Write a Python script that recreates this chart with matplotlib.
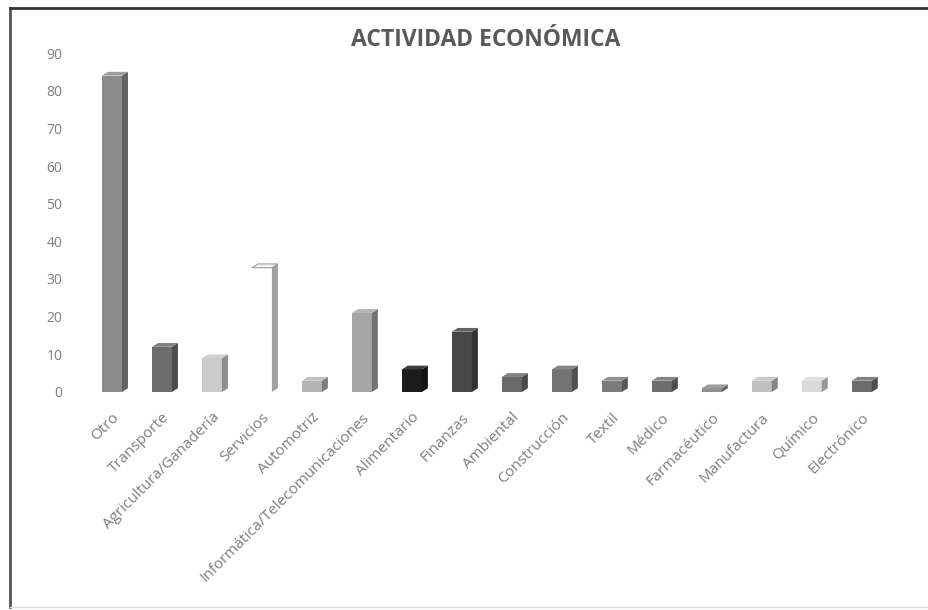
import matplotlib.pyplot as plt
from matplotlib.patches import Polygon
from matplotlib.colors import to_rgb

categorias = ['Otro', 'Transporte', 'Agricultura/Ganadería', 'Servicios', 'Automotriz',
              'Informática/Telecomunicaciones', 'Alimentario', 'Finanzas', 'Ambiental',
              'Construcción', 'Textil', 'Médico', 'Farmacéutico', 'Manufactura',
              'Químico', 'Electrónico']
valores = [84, 12, 9, 33, 3, 21, 6, 16, 4, 6, 3, 3, 1, 3, 3, 3]
colores = ['#8c8c8c', '#6c6c6c', '#cbcbcb', '#ffffff', '#b4b4b4', '#a6a6a6', '#1c1c1c',
           '#484848', '#6a6a6a', '#727272', '#7c7c7c', '#6e6e6e', '#8e8e8e', '#c0c0c0',
           '#d9d9d9', '#6c6c6c']
y_ticks = [0, 10, 20, 30, 40, 50, 60, 70, 80, 90]


def shade(c, f):
    r, g, b = to_rgb(c)
    return (r * f, g * f, b * f)


def lighten(c, f):
    r, g, b = to_rgb(c)
    return (r + (1 - r) * f, g + (1 - g) * f, b + (1 - b) * f)


def main():
    plt.rcParams['font.family'] = ['Open Sans', 'DejaVu Sans']
    fig = plt.figure(figsize=(9.29, 6.10), dpi=100)
    ax = fig.add_axes([0.0807, 0.3574, 0.890, 0.5557])

    w = 0.4
    dx, dy = 0.12, 1.0
    x = list(range(len(categorias)))
    bars = ax.bar(x, valores, width=w, color=colores, edgecolor='none', zorder=2)
    for b, v, c in zip(bars, valores, colores):
        x0 = b.get_x()
        x1 = x0 + w
        if c == '#ffffff':
            side_c = '#a0a0a0'
            top_c = '#f2f2f2'
        else:
            side_c = shade(c, 0.7)
            top_c = lighten(c, 0.15)
        ax.add_patch(Polygon([(x1, 0), (x1 + dx, dy), (x1 + dx, v + dy), (x1, v)],
                             closed=True, facecolor=side_c, edgecolor='none', zorder=2))
        ax.add_patch(Polygon([(x0, v), (x0 + dx, v + dy), (x1 + dx, v + dy), (x1, v)],
                             closed=True, facecolor=top_c,
                             edgecolor='#a0a0a0' if c == '#ffffff' else 'none',
                             linewidth=0.8, zorder=3))

    ax.set_xlim(-0.74, 15.8)
    ax.set_ylim(0, 90)
    ax.set_yticks(y_ticks)
    ax.set_xticks(x)
    ax.set_xticklabels(categorias, rotation=45, ha='right', rotation_mode='anchor',
                       fontsize=11)
    ax.tick_params(axis='both', length=0, colors='#7f7f7f')
    ax.tick_params(axis='y', pad=9, labelsize=10)
    ax.tick_params(axis='x', pad=13)
    for s in ax.spines.values():
        s.set_visible(False)

    fig.text(0.523, 0.934, 'ACTIVIDAD ECONÓMICA', ha='center', va='center',
             fontsize=16.5, fontweight='bold', color='#595959')

    # marco del gráfico
    fig.add_artist(plt.Line2D([0.011, 0.011], [0.005, 0.987], color='#555555', lw=2))
    fig.add_artist(plt.Line2D([0.011, 1.0], [0.987, 0.987], color='#333333', lw=2))
    fig.add_artist(plt.Line2D([0.011, 1.0], [0.005, 0.005], color='#dddddd', lw=1))

    fig.savefig('out.png', dpi=100)


if __name__ == '__main__':
    main()
